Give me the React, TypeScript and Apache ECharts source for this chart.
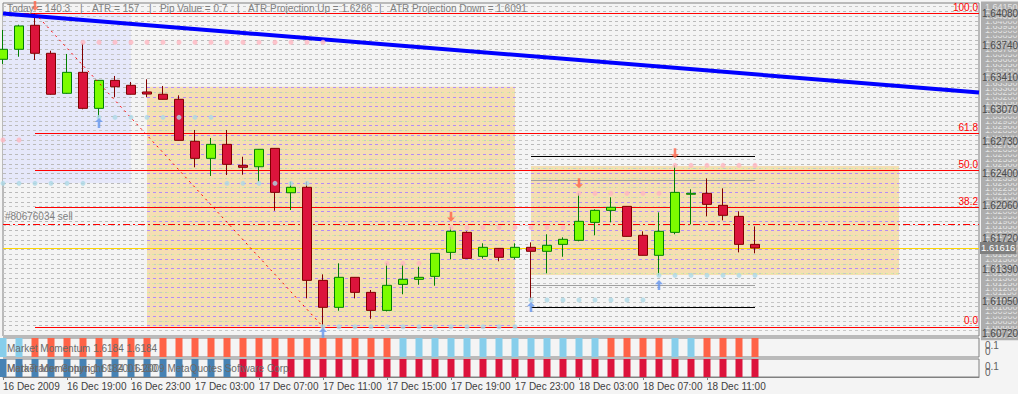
import React, { useEffect, useRef } from "react";
import * as echarts from "echarts";

// ---------- axis / categories ----------
const SLOTS = 62; // 48 hourly bars + empty space on the right
const START_DAY = 16;
const START_HOUR = 15; // first bar 16 Dec 15:00
const categories: string[] = Array.from({ length: SLOTS }, (_, i) => {
  const h = START_HOUR + i;
  const d = START_DAY + Math.floor(h / 24);
  return `${d} Dec ${String(h % 24).padStart(2, "0")}:00`;
});
const tickLabels = [
  "16 Dec 2009", "16 Dec 19:00", "16 Dec 23:00", "17 Dec 03:00", "17 Dec 07:00", "17 Dec 11:00",
  "17 Dec 15:00", "17 Dec 19:00", "17 Dec 23:00", "18 Dec 03:00", "18 Dec 07:00", "18 Dec 11:00",
];
const priceLabels = [1.6408, 1.6374, 1.6341, 1.6307, 1.6273, 1.624, 1.6206, 1.6172, 1.6139, 1.6105, 1.6072];
const Y_MIN = 1.60692;
const Y_MAX = 1.64188;

// ---------- OHLC ----------
const opens = [1.63597, 1.63702, 1.63954, 1.6366, 1.6324, 1.6346, 1.63082, 1.63376, 1.63324, 1.63254, 1.6323, 1.63177, 1.62736, 1.62557, 1.62704, 1.62484, 1.62469, 1.62662, 1.62196, 1.62253, 1.61276, 1.60993, 1.61308, 1.6115, 1.60961, 1.61234, 1.61287, 1.61318, 1.6157, 1.6178, 1.61528, 1.61612, 1.61518, 1.61623, 1.61581, 1.61654, 1.61696, 1.61885, 1.62011, 1.62053, 1.61749, 1.61539, 1.6178, 1.6218, 1.6219, 1.62064, 1.61948, 1.61654];
const closes = [1.63702, 1.63947, 1.6366, 1.6323, 1.6346, 1.63082, 1.63376, 1.63309, 1.6323, 1.63232, 1.63177, 1.62746, 1.62557, 1.62704, 1.62494, 1.62463, 1.62652, 1.622, 1.62253, 1.61276, 1.60993, 1.61308, 1.6115, 1.60961, 1.61224, 1.61287, 1.61308, 1.6156, 1.61791, 1.61507, 1.61623, 1.61518, 1.61623, 1.61581, 1.61644, 1.61707, 1.61896, 1.62011, 1.62043, 1.61738, 1.61539, 1.61791, 1.622, 1.6219, 1.62074, 1.61959, 1.61654, 1.61616];
const lows = [1.63548, 1.63624, 1.6359, 1.63225, 1.63235, 1.63072, 1.62988, 1.63198, 1.63228, 1.63198, 1.63175, 1.62744, 1.62463, 1.62372, 1.62382, 1.62385, 1.62312, 1.62007, 1.62015, 1.61087, 1.60789, 1.60957, 1.61087, 1.60873, 1.6095, 1.6113, 1.6123, 1.6122, 1.61497, 1.61505, 1.61505, 1.61476, 1.61497, 1.6107, 1.6135, 1.61524, 1.61686, 1.61749, 1.61885, 1.61736, 1.61537, 1.61329, 1.6176, 1.61864, 1.61948, 1.61906, 1.6157, 1.6156];
const highs = [1.63905, 1.6396, 1.6408, 1.63687, 1.63653, 1.63765, 1.6338, 1.63422, 1.63359, 1.63387, 1.63317, 1.63219, 1.62855, 1.62771, 1.62855, 1.62574, 1.62655, 1.62665, 1.62312, 1.62312, 1.61339, 1.61455, 1.6131, 1.61175, 1.61455, 1.61444, 1.61419, 1.61562, 1.61833, 1.61791, 1.61665, 1.61614, 1.61665, 1.61675, 1.6176, 1.61728, 1.6219, 1.62022, 1.62148, 1.62055, 1.61791, 1.6199, 1.62484, 1.62232, 1.62347, 1.62242, 1.62001, 1.61843];

// ---------- indicator panels (B = up colour, R = down colour) ----------
const momentumA = ("BB" + "RRRRRRRRRRRRRRRRRRRRRRR" + "BBBBBBBBBBBBB" + "RRRR" + "BB" + "RRRR").split("");
const momentumB = ("BBBBBBBBBBBBBBB" + "RRRRRRRRRRRRRRRRRRRRRRRRRRRRRRRRR").split("");

// ---------- objects ----------
const fibHigh = { idx: 2, price: 1.6408 };
const fibLow = { idx: 20, price: 1.60789 };
const fibRatios = [100, 61.8, 50, 38.2, 0];
const trendLine = [{ idx: 0, price: 1.64078 }, { idx: 61, price: 1.63249 }];
const lavenderBox = { from: 0, to: 8, top: 1.6408, bottom: 1.62298 };
const orangeBoxes = [
  { from: 9, to: 32, top: 1.63309, bottom: 1.60789 },
  { from: 33, to: 56, top: 1.62477, bottom: 1.61332 },
];
const shortLines = { from: 33, to: 47, dark: [1.62574, 1.60993], light: [1.62327, 1.61227] };
const orderPrice = 1.61868;
const bidPrice = 1.61616;
const pinkRuns = [
  { from: 5, to: 20, price: 1.63776 }, { from: 0, to: 1, price: 1.6275 }, { from: 24, to: 26, price: 1.61455 },
  { from: 28, to: 35, price: 1.61833 }, { from: 36, to: 41, price: 1.6219 }, { from: 42, to: 47, price: 1.62484 },
];
const blueRuns = [
  { from: 0, to: 5, price: 1.62295 }, { from: 6, to: 13, price: 1.62988 }, { from: 14, to: 19, price: 1.62295 },
  { from: 20, to: 32, price: 1.60789 }, { from: 33, to: 40, price: 1.6107 }, { from: 41, to: 47, price: 1.61329 },
];
const upArrows = [[6, 1.62929], [20, 1.60725], [33, 1.60996], [41, 1.61227]];
const downArrows = [[2, 1.64157], [28, 1.61944], [36, 1.62295], [42, 1.6261]];

const FONT = "'Liberation Sans', Arial, sans-serif";
const ARROW = "path://M5,0 L10,5 L6.6,5 L6.6,12 L3.4,12 L3.4,5 L0,5 Z";

function runsToPoints(runs: { from: number; to: number; price: number }[]) {
  const pts: number[][] = [];
  runs.forEach((r) => {
    for (let i = r.from; i <= r.to; i++) pts.push([i, r.price]);
  });
  return pts;
}

function lineData(a: { idx: number; price: number }, b: { idx: number; price: number }) {
  const arr: (number | null)[] = new Array(SLOTS).fill(null);
  arr[a.idx] = a.price;
  arr[b.idx] = b.price;
  return arr;
}

function buildOption(): any {
  const gridLevels: number[] = [];
  for (let k = 16070; k <= 16415; k += 5) gridLevels.push(k / 10000);

  const gridLineData = gridLevels.map((p) => ({
    yAxis: p,
    lineStyle: { color: Math.round(p * 10000) % 10 === 0 ? "#bababa" : "#c6c6c6", type: [3, 3], width: 1 },
  }));

  const tintData: any[] = [];
  orangeBoxes.forEach((b) => {
    gridLevels.forEach((p) => {
      if (p < b.top && p > b.bottom) {
        const even = Math.round(p * 10000) % 10 === 0;
        tintData.push([
          { coord: [b.from, p], lineStyle: even ? { color: "#b48cf4", type: [3, 3], width: 1 } : { color: "#d6ee9e", type: [2, 3], width: 1 } },
          { coord: [b.to, p] },
        ]);
      }
    });
  });

  const fibRange = fibHigh.price - fibLow.price;
  const fibData = fibRatios.map((r) => {
    const p = fibLow.price + (fibRange * r) / 100;
    return [
      { name: r.toFixed(1), coord: [r === 100 ? 0 : fibHigh.idx, p] },
      { coord: [SLOTS - 1, p] },
    ];
  });

  const candleData = opens.map((o, i) => [o, closes[i], lows[i], highs[i]]);

  const shortData = [
    ...shortLines.dark.map((p) => [{ coord: [shortLines.from, p], lineStyle: { color: "#000000", width: 1, type: "solid" } }, { coord: [shortLines.to, p] }]),
    ...shortLines.light.map((p) => [{ coord: [shortLines.from, p], lineStyle: { color: "#a0a0a0", width: 1, type: "solid" } }, { coord: [shortLines.to, p] }]),
  ];

  const hidden = { show: false };
  const tickFn = (i: number) => i % 4 === 0 && i <= 44;

  return {
    animation: false,
    backgroundColor: "#f4f4f4",
    textStyle: { fontFamily: FONT },
    grid: [
      { left: 3, width: 976, top: 3, height: 333, show: true, borderColor: "#808080", borderWidth: 1, backgroundColor: "transparent" },
      { left: 3, width: 976, top: 338, height: 19, show: true, borderColor: "#808080", borderWidth: 1, backgroundColor: "transparent" },
      { left: 3, width: 976, top: 359, height: 18, show: true, borderColor: "#808080", borderWidth: 1, backgroundColor: "transparent" },
    ],
    xAxis: [
      { type: "category", gridIndex: 0, data: categories, boundaryGap: false, axisLine: hidden, axisTick: hidden, axisLabel: hidden, splitLine: hidden },
      { type: "category", gridIndex: 1, data: categories, boundaryGap: false, axisLine: hidden, axisTick: hidden, axisLabel: hidden, splitLine: hidden },
      {
        type: "category", gridIndex: 2, data: categories, boundaryGap: false,
        axisLine: { lineStyle: { color: "#808080" } },
        axisTick: { interval: tickFn, length: 3, lineStyle: { color: "#808080" } },
        axisLabel: {
          interval: tickFn, align: "left", margin: 4, color: "#404040", fontSize: 10, fontFamily: FONT,
          formatter: (_v: string, i: number) => tickLabels[Math.round(i / 4)] ?? "",
        },
        splitLine: hidden,
      },
    ],
    yAxis: [
      { type: "value", gridIndex: 0, position: "right", min: Y_MIN, max: Y_MAX, axisLine: hidden, axisTick: hidden, axisLabel: hidden, splitLine: hidden },
      { type: "value", gridIndex: 1, min: 0, max: 1, axisLine: hidden, axisTick: hidden, axisLabel: hidden, splitLine: hidden },
      { type: "value", gridIndex: 2, min: 0, max: 1, axisLine: hidden, axisTick: hidden, axisLabel: hidden, splitLine: hidden },
    ],
    series: [
      // shaded boxes
      {
        type: "line", data: [], z: 1, silent: true,
        markArea: {
          silent: true,
          data: [
            [{ coord: [lavenderBox.from, lavenderBox.top], itemStyle: { color: "#e6e8fa" } }, { coord: [lavenderBox.to, lavenderBox.bottom] }],
            ...orangeBoxes.map((b) => [{ coord: [b.from, b.top], itemStyle: { color: "#f5deb3" } }, { coord: [b.to, b.bottom] }]),
          ],
        },
      },
      // 5-pip grid lines + price-scale stripes
      {
        type: "line", data: [], z: 2, silent: true,
        markLine: {
          silent: true, symbol: ["none", "none"], precision: 6,
          label: {
            show: true, position: "end", distance: 2, fontSize: 9, lineHeight: 10, color: "#e4e4e4",
            backgroundColor: "#adadad", padding: [0, 4], fontFamily: FONT,
            formatter: (p: any) => Number(p.value).toFixed(5),
          },
          data: gridLineData,
        },
      },
      // tinted grid lines inside orange boxes
      {
        type: "line", data: [], z: 2, silent: true,
        markLine: { silent: true, symbol: ["none", "none"], precision: 6, label: { show: false }, data: tintData },
      },
      // fibonacci levels
      {
        type: "line", data: [], z: 3, silent: true,
        markLine: {
          silent: true, symbol: ["none", "none"], precision: 6,
          lineStyle: { color: "#ff0000", width: 1, type: "solid" },
          label: { show: true, position: "insideEndTop", distance: 1, color: "#ff0000", fontSize: 10, fontFamily: FONT, formatter: "{b}" },
          data: fibData,
        },
      },
      // short horizontal lines
      {
        type: "line", data: [], z: 3, silent: true,
        markLine: { silent: true, symbol: ["none", "none"], precision: 6, label: { show: false }, data: shortData },
      },
      // order line and bid line
      {
        type: "line", data: [], z: 4, silent: true,
        markLine: {
          silent: true, symbol: ["none", "none"], precision: 6,
          data: [
            {
              yAxis: orderPrice, lineStyle: { color: "#ff0000", width: 1, type: [7, 3, 2, 3] },
              label: { show: true, position: "insideStartTop", distance: 2, color: "#808080", fontSize: 10, fontFamily: FONT, formatter: "#80676034 sell" },
            },
            {
              yAxis: bidPrice, lineStyle: { color: "#ffd700", width: 1, type: "solid" },
              label: { show: false },
            },
          ],
        },
      },
      // candles
      {
        type: "candlestick", xAxisIndex: 0, yAxisIndex: 0, z: 5, barWidth: 10, silent: true,
        data: candleData,
        itemStyle: { color: "#7cfc00", color0: "#dc143c", borderColor: "#008000", borderColor0: "#800000", borderWidth: 1 },
      },
      // trend line (blue)
      {
        type: "line", z: 6, silent: true, connectNulls: true, symbol: "none",
        data: lineData(trendLine[0], trendLine[1]),
        lineStyle: { color: "#0000ff", width: 4 },
      },
      // fibonacci diagonal
      {
        type: "line", z: 6, silent: true, connectNulls: true, symbol: "none",
        data: lineData(fibHigh, fibLow),
        lineStyle: { color: "#ff0000", width: 1, type: [2, 4] },
      },
      // dots
      {
        type: "scatter", z: 7, silent: true, symbol: "circle", symbolSize: 5,
        data: runsToPoints(pinkRuns), itemStyle: { color: "#ffb6c1" },
      },
      {
        type: "scatter", z: 7, silent: true, symbol: "circle", symbolSize: 5,
        data: runsToPoints(blueRuns), itemStyle: { color: "#add8e6" },
      },
      // arrows
      {
        type: "scatter", z: 8, silent: true, symbol: ARROW, symbolSize: [8, 10],
        data: upArrows, itemStyle: { color: "#6495ed" },
      },
      {
        type: "scatter", z: 8, silent: true, symbol: ARROW, symbolSize: [8, 10], symbolRotate: 180,
        data: downArrows, itemStyle: { color: "#ff6347" },
      },
      // price scale labels
      {
        type: "line", data: [], z: 10, silent: true,
        markLine: {
          silent: true, symbol: ["none", "none"], precision: 6,
          lineStyle: { color: "rgba(0,0,0,0)", width: 0 },
          data: [
            ...priceLabels.map((p) => ({
              yAxis: p,
              label: { show: true, position: "end", distance: 3, color: "#4a4a4a", fontSize: 10, fontFamily: FONT, formatter: p.toFixed(5) },
            })),
            {
              yAxis: bidPrice,
              label: { show: true, position: "end", distance: 1, color: "#ffffff", backgroundColor: "#808080", padding: [1, 1], fontSize: 9.5, fontFamily: FONT, formatter: bidPrice.toFixed(5) },
            },
          ],
        },
      },
      // panel bars
      {
        type: "bar", xAxisIndex: 1, yAxisIndex: 1, barWidth: 7, silent: true,
        data: momentumA.map((c) => ({ value: 1, itemStyle: { color: c === "B" ? "#87ceeb" : "#ff6347" } })),
      },
      {
        type: "bar", xAxisIndex: 2, yAxisIndex: 2, barWidth: 7, silent: true,
        data: momentumB.map((c) => ({ value: 1, itemStyle: { color: c === "B" ? "#4682b4" : "#dc143c" } })),
      },
    ],
    graphic: [
      ...[
        { x: 7, t: "Today = 140.3" }, { x: 80, t: "|" }, { x: 92, t: "ATR = 157" }, { x: 149, t: "|" },
        { x: 160, t: "Pip Value = 0.7" }, { x: 237, t: "|" }, { x: 248, t: "ATR Projection Up = 1.6266" },
        { x: 379, t: "|" }, { x: 390, t: "ATR Projection Down = 1.6091" },
      ].map((o) => ({
        type: "text", x: o.x, y: 8, z: 100,
        style: { text: o.t, fill: "#808080", font: `10px ${FONT}`, textVerticalAlign: "middle", verticalAlign: "middle" },
      })),
      { type: "text", x: 7, y: 348, z: 100, style: { text: "Market Momentum 1.6184 1.6184", fill: "#6a6a6a", font: `10px ${FONT}`, textVerticalAlign: "middle", verticalAlign: "middle" } },
      { type: "text", x: 7, y: 368, z: 100, style: { text: "Market Momentum 1.6184 1.6130", fill: "#6a6a6a", font: `10px ${FONT}`, textVerticalAlign: "middle", verticalAlign: "middle" } },
      { type: "text", x: 7, y: 368, z: 100, style: { text: "MetaTrader Copyright © 2001-2009 MetaQuotes Software Corp.", fill: "#6a6a6a", font: `10px ${FONT}`, textVerticalAlign: "middle", verticalAlign: "middle" } },
      { type: "text", x: 985, y: 345, z: 100, style: { text: "0.1", fill: "#606060", font: `10px ${FONT}`, textVerticalAlign: "middle", verticalAlign: "middle" } },
      { type: "text", x: 985, y: 351, z: 100, style: { text: "0", fill: "#606060", font: `10px ${FONT}`, textVerticalAlign: "middle", verticalAlign: "middle" } },
      { type: "text", x: 985, y: 366, z: 100, style: { text: "0.1", fill: "#606060", font: `10px ${FONT}`, textVerticalAlign: "middle", verticalAlign: "middle" } },
      { type: "text", x: 985, y: 372, z: 100, style: { text: "0", fill: "#606060", font: `10px ${FONT}`, textVerticalAlign: "middle", verticalAlign: "middle" } },
    ],
  };
}

export default function App() {
  const ref = useRef<HTMLDivElement>(null);
  useEffect(() => {
    if (!ref.current) return;
    const chart = echarts.init(ref.current, null, { renderer: "svg" });
    chart.setOption(buildOption());
    return () => chart.dispose();
  }, []);
  return (
    <div
      ref={ref}
      style={{ position: "fixed", left: 0, top: 0, width: 1018, height: 394, background: "#f4f4f4" }}
    />
  );
}
